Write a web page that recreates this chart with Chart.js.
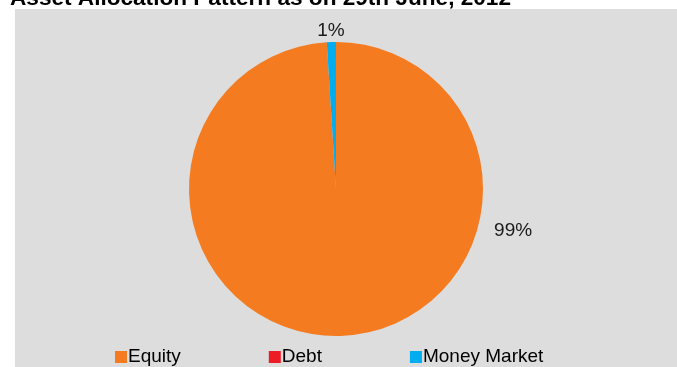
<!DOCTYPE html>
<html>
<head>
<meta charset="utf-8">
<script src="https://cdn.jsdelivr.net/npm/chart.js@4/dist/chart.umd.min.js"></script>
<style>
  html, body { margin: 0; padding: 0; background: #ffffff; overflow: hidden; }
  #wrap { width: 677px; height: 367px; }
</style>
</head>
<body>
<div id="wrap"><canvas id="graficoAlocacao" width="677" height="367"></canvas></div>
<script>
document.addEventListener("DOMContentLoaded", function () {
  // --- Dados ---
  const titulo = "Asset Allocation Pattern as on 29th June, 2012";
  const categorias = ["Equity", "Debt", "Money Market"];
  const percentuais = [99, 0, 1];
  const cores = ["#f47b20", "#ed1c24", "#00aeef"];

  // posição especial do rótulo da fatia grande (graus a partir do topo, sentido horário)
  const ajustesRotulo = { 0: { angulo: 103.3, distancia: 35 } };

  const fonte = "'Liberation Sans', Arial, sans-serif";

  // Fundo branco + painel cinza (área do gráfico)
  const fundo = {
    id: "fundo",
    beforeDraw(chart) {
      const ctx = chart.ctx;
      ctx.save();
      ctx.fillStyle = "#ffffff";
      ctx.fillRect(0, 0, chart.width, chart.height);
      ctx.fillStyle = "#dddddd";
      ctx.fillRect(15, 9, chart.width - 15, chart.height - 9);
      ctx.restore();
    },
  };

  // Título em negrito, alinhado à esquerda (parcialmente acima da borda)
  const tituloPlugin = {
    id: "tituloTopo",
    afterDraw(chart) {
      const ctx = chart.ctx;
      ctx.save();
      ctx.font = "bold 22.6px " + fonte;
      ctx.fillStyle = "#000000";
      ctx.textAlign = "left";
      ctx.textBaseline = "alphabetic";
      ctx.fillText(titulo, 10, 5);
      ctx.restore();
    },
  };

  // Rótulos de porcentagem fora das fatias
  const rotulos = {
    id: "rotulos",
    afterDatasetsDraw(chart) {
      const ctx = chart.ctx;
      const meta = chart.getDatasetMeta(0);
      const valores = chart.data.datasets[0].data;
      ctx.save();
      ctx.font = "19px " + fonte;
      ctx.fillStyle = "#1a1a1a";
      ctx.textAlign = "center";
      ctx.textBaseline = "middle";
      meta.data.forEach(function (arc, i) {
        if (!valores[i]) return;
        const p = arc.getProps(["x", "y", "startAngle", "endAngle", "outerRadius"], true);
        let ang = (p.startAngle + p.endAngle) / 2;
        let dist = p.outerRadius + 11;
        const ajuste = ajustesRotulo[i];
        if (ajuste) {
          ang = (ajuste.angulo - 90) * Math.PI / 180;
          dist = p.outerRadius + ajuste.distancia;
        }
        ctx.fillText(valores[i] + "%", p.x + Math.cos(ang) * dist, p.y + Math.sin(ang) * dist);
      });
      ctx.restore();
    },
  };

  // Legenda embaixo, itens bem espaçados
  const legenda = {
    id: "legendaBaixo",
    afterDraw(chart) {
      const ctx = chart.ctx;
      const ds = chart.data.datasets[0];
      const caixa = 12;
      const y = 357;
      ctx.save();
      ctx.font = "19px " + fonte;
      ctx.textAlign = "left";
      ctx.textBaseline = "middle";
      let x = 115;
      chart.data.labels.forEach(function (nome, i) {
        ctx.fillStyle = ds.backgroundColor[i];
        ctx.fillRect(x, y - caixa / 2, caixa, caixa);
        ctx.fillStyle = "#000000";
        ctx.fillText(nome, x + caixa + 1, y);
        x += caixa + 1 + ctx.measureText(nome).width + 88;
      });
      ctx.restore();
    },
  };

  const ctxAlocacao = document.getElementById("graficoAlocacao").getContext("2d");

  new Chart(ctxAlocacao, {
    type: "pie",
    data: {
      labels: categorias,
      datasets: [
        {
          data: percentuais,
          backgroundColor: cores,
          borderWidth: 0,
        },
      ],
    },
    options: {
      responsive: false,
      animation: false,
      layout: { padding: { top: 42, bottom: 31, left: 100, right: 105 } },
      plugins: {
        legend: { display: false },
        tooltip: { enabled: false },
      },
    },
    plugins: [fundo, tituloPlugin, rotulos, legenda],
  });
});
</script>
</body>
</html>
